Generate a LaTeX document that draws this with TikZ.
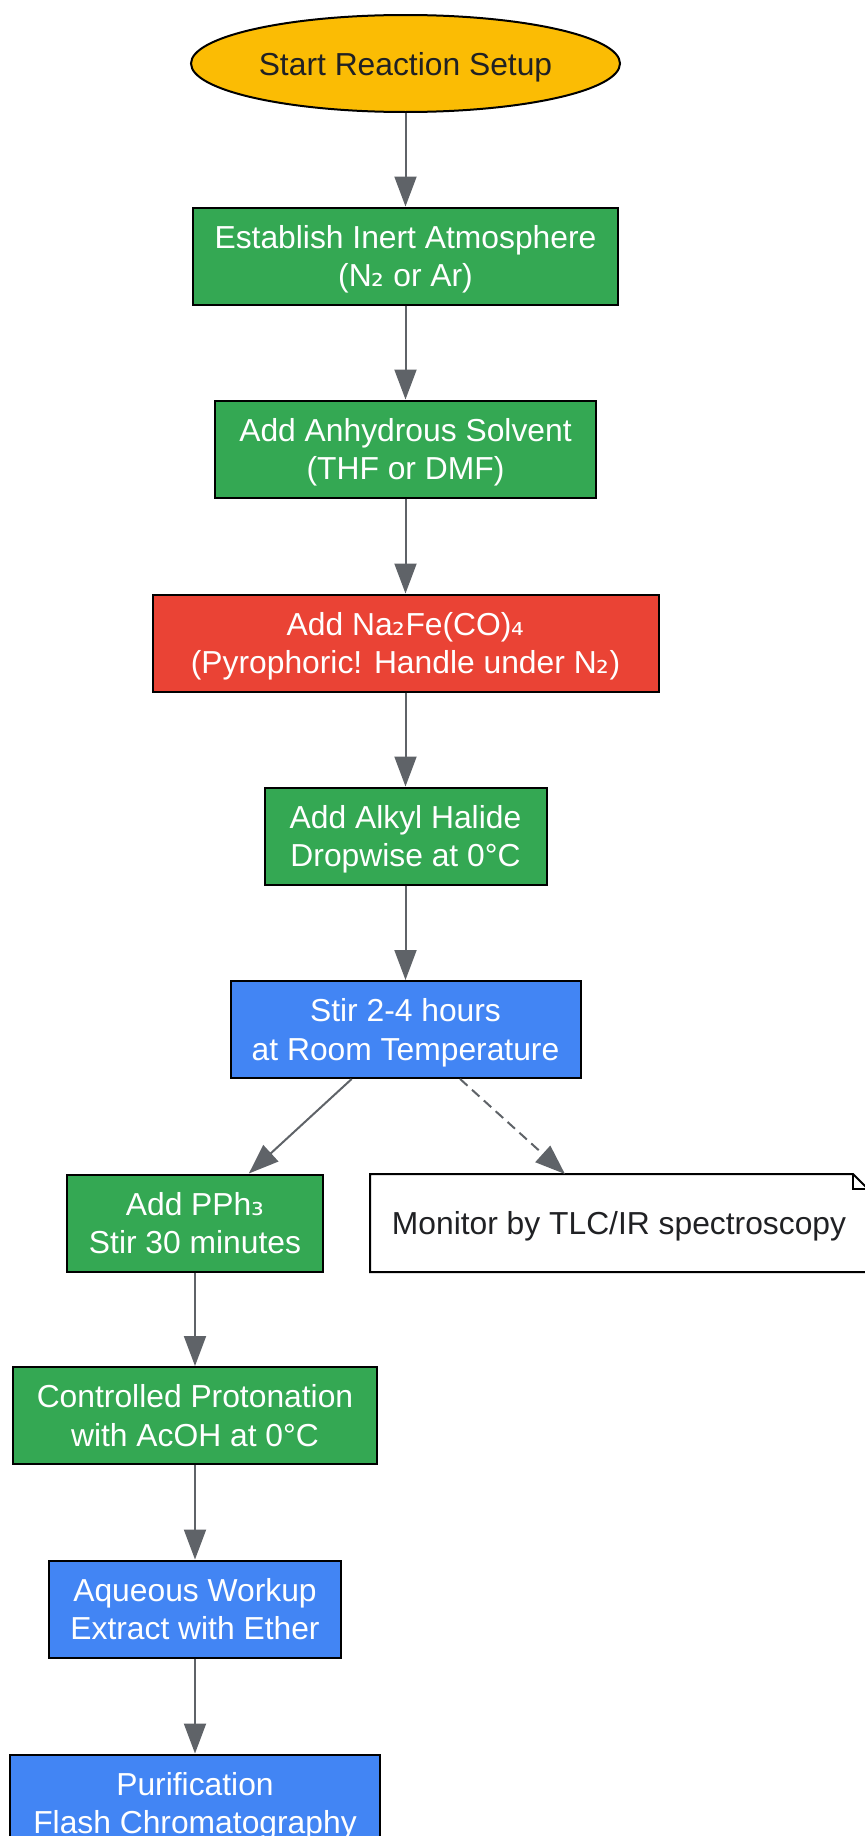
\documentclass[tikz,border=0pt]{standalone}
\usepackage{fontspec}
\setmainfont{Liberation Sans}
\newfontfamily\subfont{DejaVu Sans}
\usetikzlibrary{shapes.geometric,arrows.meta}
\definecolor{gyellow}{HTML}{FBBC04}
\definecolor{ggreen}{HTML}{34A853}
\definecolor{gred}{HTML}{EA4335}
\definecolor{gblue}{HTML}{4285F4}
\definecolor{darktext}{HTML}{202124}
\definecolor{arrowgray}{HTML}{5F6368}
\newcommand\tstrut{\rule{0pt}{15.6pt}}
\newcommand\bstrut{\rule[-4pt]{0pt}{4pt}}
\newcommand\subdig[1]{{\subfont #1}}
\tikzset{
  base/.style={draw=black, line width=1pt, align=center, inner sep=0pt,
    font=\fontsize{15.9}{19.3}\selectfont, minimum height=48.5pt},
  startnode/.style={base, ellipse, fill=gyellow, text=darktext},
  greenbox/.style={base, rectangle, fill=ggreen, text=white},
  redbox/.style={base, rectangle, fill=gred, text=white},
  bluebox/.style={base, rectangle, fill=gblue, text=white},
  notebox/.style={base, draw=none, text=darktext, minimum height=48pt},
  flow/.style={draw=arrowgray, line width=1pt, -{Triangle[length=15pt,width=11pt]}},
  dflow/.style={flow, dash pattern=on 5pt off 3pt}
}
\begin{document}
\begin{tikzpicture}[x=0.5pt,y=-0.5pt]
\useasboundingbox (0,0) rectangle (865,1836);
\node[startnode, minimum width=214.5pt] (start) at (405.5,63.5) {\tstrut Start Reaction Setup\bstrut};
\node[greenbox, minimum width=212.5pt] (n1) at (405.5,256) {\tstrut Establish Inert Atmosphere\\(N\subdig{₂} or Ar)\bstrut};
\node[greenbox, minimum width=190.5pt] (n2) at (405.5,449) {\tstrut Add Anhydrous Solvent\\(THF or DMF)\bstrut};
\node[redbox, minimum width=253pt] (n3) at (405.5,643) {\tstrut Add Na\subdig{₂}Fe(CO)\subdig{₄}\\(Pyrophoric! Handle under N\subdig{₂})\bstrut};
\node[greenbox, minimum width=141pt] (n4) at (405.5,836) {\tstrut Add Alkyl Halide\\Dropwise at 0°C\bstrut};
\node[bluebox, minimum width=175pt] (n5) at (405.5,1029.5) {\tstrut Stir 2-4 hours\\at Room Temperature\bstrut};
\node[greenbox, minimum width=127.7pt] (n6) at (195,1223) {\tstrut Add PPh\subdig{₃}\\Stir 30 minutes\bstrut};
\node[notebox, minimum width=248pt] (note) at (619,1223) {};
\draw[line width=1pt, fill=white] (note.north west) -- ([xshift=-7.5pt]note.north east)
  -- ([yshift=-7.5pt]note.north east) -- (note.south east) -- (note.south west) -- cycle;
\draw[line width=1pt] ([xshift=-7.5pt]note.north east) -- ([xshift=-7.5pt,yshift=-7.5pt]note.north east)
  -- ([yshift=-7.5pt]note.north east);
\node[notebox, minimum width=248pt] (notetext) at (note.center) {\tstrut Monitor by TLC/IR spectroscopy\bstrut};
\node[greenbox, minimum width=182pt] (n7) at (195,1415.5) {\tstrut Controlled Protonation\\with AcOH at 0°C\bstrut};
\node[bluebox, minimum width=145.8pt] (n8) at (195,1609) {\tstrut Aqueous Workup\\Extract with Ether\bstrut};
\node[bluebox, minimum width=185pt] (n9) at (195,1803) {\tstrut Purification\\Flash Chromatography\bstrut};
\draw[flow] (start) -- (n1);
\draw[flow] (n1) -- (n2);
\draw[flow] (n2) -- (n3);
\draw[flow] (n3) -- (n4);
\draw[flow] (n4) -- (n5);
\draw[flow] (n5) -- (n6);
\draw[dflow] (n5) -- (note);
\draw[flow] (n6) -- (n7);
\draw[flow] (n7) -- (n8);
\draw[flow] (n8) -- (n9);
\end{tikzpicture}
\end{document}
